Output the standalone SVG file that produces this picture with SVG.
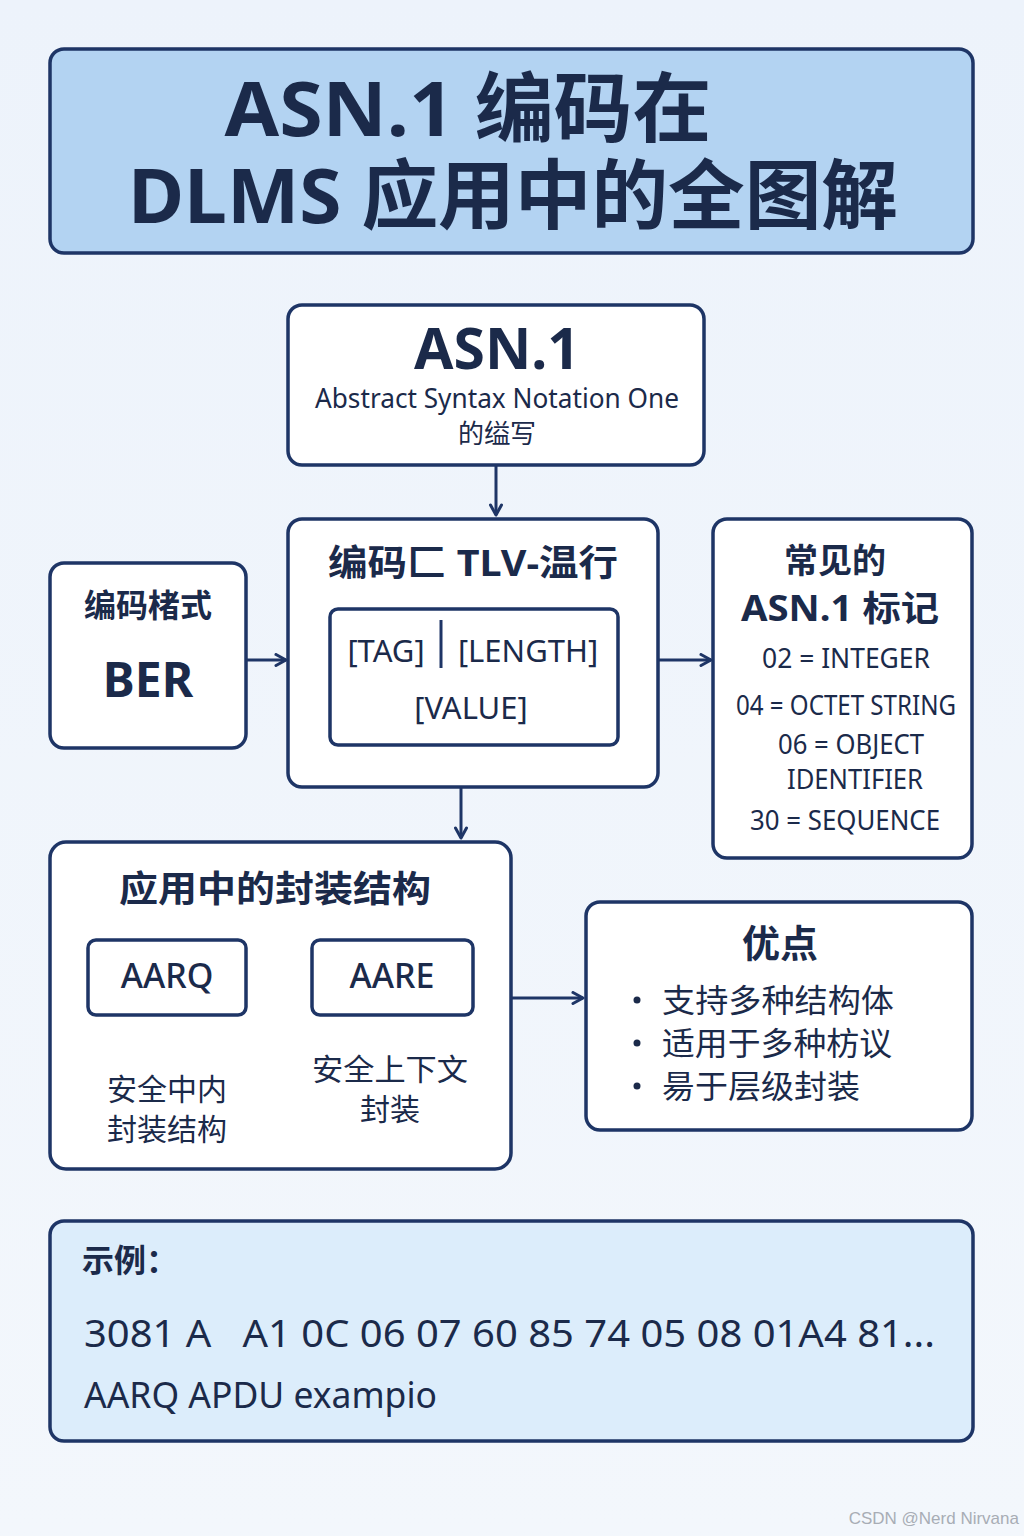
<svg xmlns="http://www.w3.org/2000/svg" width="1024" height="1536" viewBox="0 0 1024 1536">
<defs>
<linearGradient id="bg" x1="0" y1="0" x2="0" y2="1">
<stop offset="0" stop-color="#edf3fb"/>
<stop offset="1" stop-color="#f3f7fc"/>
</linearGradient>
<marker id="ah" viewBox="0 0 14 14" refX="12" refY="7" markerWidth="14" markerHeight="14" markerUnits="userSpaceOnUse" orient="auto">
<path d="M2,1.5 L12,7 L2,12.5" fill="none" stroke="#1e3566" stroke-width="3" stroke-linecap="round" stroke-linejoin="round"/>
</marker>
<style>
.box{fill:#ffffff;stroke:#1e3566;stroke-width:3.5}
.t{font-family:"Noto Sans","Noto Sans CJK SC","Open Sans",sans-serif;fill:#1b2a4a}
.b{font-weight:bold}
.m{font-weight:500}
.c{text-anchor:middle}
.ln{stroke:#1e3566;stroke-width:3;fill:none}
</style>
</defs>
<rect width="1024" height="1536" fill="url(#bg)"/>

<g id="title">
<rect x="50" y="49" width="923" height="204" rx="14" fill="#b3d3f2" stroke="#1e3566" stroke-width="3.5"/>
<text class="t b c" x="468" y="136" font-size="76" textLength="487" lengthAdjust="spacingAndGlyphs">ASN.1 编码在</text>
<text class="t b c" x="513" y="223" font-size="76" textLength="770" lengthAdjust="spacingAndGlyphs">DLMS 应用中的全图解</text>
</g>

<g id="connectors">
<line class="ln" x1="496" y1="466" x2="496" y2="515" marker-end="url(#ah)"/>
<line class="ln" x1="246" y1="660" x2="286" y2="660" marker-end="url(#ah)"/>
<line class="ln" x1="658" y1="660" x2="711" y2="660" marker-end="url(#ah)"/>
<line class="ln" x1="461" y1="788" x2="461" y2="838" marker-end="url(#ah)"/>
<line class="ln" x1="511" y1="998" x2="583" y2="998" marker-end="url(#ah)"/>
<line class="ln" x1="168" y1="1015" x2="168" y2="1069" marker-end="url(#ah)"/>
</g>

<g id="asn1">
<rect class="box" x="288" y="305" width="416" height="160" rx="14"/>
<text class="t b c" x="497" y="369" font-size="57">ASN.1</text>
<text class="t c" x="497" y="408" font-size="27" textLength="364" lengthAdjust="spacingAndGlyphs">Abstract Syntax Notation One</text>
<text class="t c" x="497" y="443" font-size="26">的缢写</text>
</g>

<g id="tlv">
<rect class="box" x="288" y="519" width="370" height="268" rx="14"/>
<text class="t b c" x="473" y="576" font-size="36" textLength="290" lengthAdjust="spacingAndGlyphs">编码匚 TLV-温行</text>
<rect x="330" y="609" width="288" height="136" rx="8" fill="#ffffff" stroke="#1e3566" stroke-width="3.5"/>
<line x1="441" y1="620" x2="441" y2="668" stroke="#1e3566" stroke-width="3"/>
<text class="t c" x="386" y="662" font-size="31">[TAG]</text>
<text class="t c" x="528" y="662" font-size="31">[LENGTH]</text>
<text class="t c" x="471" y="719" font-size="31">[VALUE]</text>
</g>

<g id="ber">
<rect class="box" x="50" y="563" width="196" height="185" rx="14"/>
<text class="t b c" x="148" y="617" font-size="32">编码楮式</text>
<text class="t b c" x="148" y="697" font-size="48">BER</text>
</g>

<g id="tags">
<rect class="box" x="713" y="519" width="259" height="339" rx="14"/>
<text class="t b c" x="835" y="573" font-size="34">常见的</text>
<text class="t b c" x="840" y="621" font-size="35" textLength="198" lengthAdjust="spacingAndGlyphs">ASN.1 标记</text>
<text class="t c" x="846" y="668" font-size="27" textLength="168" lengthAdjust="spacingAndGlyphs">02 = INTEGER</text>
<text class="t c" x="846" y="715" font-size="27" textLength="220" lengthAdjust="spacingAndGlyphs">04 = OCTET STRING</text>
<text class="t c" x="851" y="754" font-size="27" textLength="146" lengthAdjust="spacingAndGlyphs">06 = OBJECT</text>
<text class="t c" x="855" y="789" font-size="27" textLength="136" lengthAdjust="spacingAndGlyphs">IDENTIFIER</text>
<text class="t c" x="845" y="830" font-size="27" textLength="190" lengthAdjust="spacingAndGlyphs">30 = SEQUENCE</text>
</g>

<g id="app">
<rect class="box" x="50" y="842" width="461" height="327" rx="16"/>
<text class="t b c" x="275" y="902" font-size="36" textLength="312" lengthAdjust="spacingAndGlyphs">应用中的封装结构</text>
<rect x="88" y="940" width="158" height="75" rx="8" fill="#ffffff" stroke="#1e3566" stroke-width="3.5"/>
<text class="t m c" x="167" y="988" font-size="34">AARQ</text>
<rect x="312" y="940" width="161" height="75" rx="8" fill="#ffffff" stroke="#1e3566" stroke-width="3.5"/>
<text class="t m c" x="392" y="988" font-size="34">AARE</text>
<text class="t c" x="167" y="1100" font-size="30">安全中内</text>
<text class="t c" x="167" y="1140" font-size="30">封装结构</text>
<text class="t c" x="390" y="1080" font-size="30" textLength="156" lengthAdjust="spacingAndGlyphs">安全上下文</text>
<text class="t c" x="390" y="1120" font-size="30">封装</text>
</g>

<g id="advantages">
<rect class="box" x="586" y="902" width="386" height="228" rx="14"/>
<text class="t b c" x="780" y="957" font-size="38">优点</text>
<circle cx="637" cy="1000" r="3.5" fill="#1b2a4a"/>
<circle cx="637" cy="1043" r="3.5" fill="#1b2a4a"/>
<circle cx="637" cy="1086" r="3.5" fill="#1b2a4a"/>
<text class="t" x="662" y="1012" font-size="32" textLength="232" lengthAdjust="spacingAndGlyphs">支持多种结构体</text>
<text class="t" x="662" y="1055" font-size="32" textLength="230" lengthAdjust="spacingAndGlyphs">适用于多种枋议</text>
<text class="t" x="662" y="1098" font-size="32" textLength="198" lengthAdjust="spacingAndGlyphs">昜于层级封装</text>
</g>

<g id="example">
<rect x="50" y="1221" width="923" height="220" rx="14" fill="#dcedfb" stroke="#1e3566" stroke-width="3.5"/>
<text class="t b" x="82" y="1272" font-size="32">示例：</text>
<text class="t" x="84" y="1347" font-size="38" textLength="851" lengthAdjust="spacingAndGlyphs" xml:space="preserve">3081 A   A1 0C 06 07 60 85 74 05 08 01A4 81...</text>
<text class="t" x="84" y="1408" font-size="36" textLength="353" lengthAdjust="spacingAndGlyphs">AARQ APDU exampio</text>
</g>

<text x="1019" y="1524" font-family="'Liberation Sans',sans-serif" font-size="17" fill="#a8adb5" text-anchor="end">CSDN @Nerd Nirvana</text>
</svg>
